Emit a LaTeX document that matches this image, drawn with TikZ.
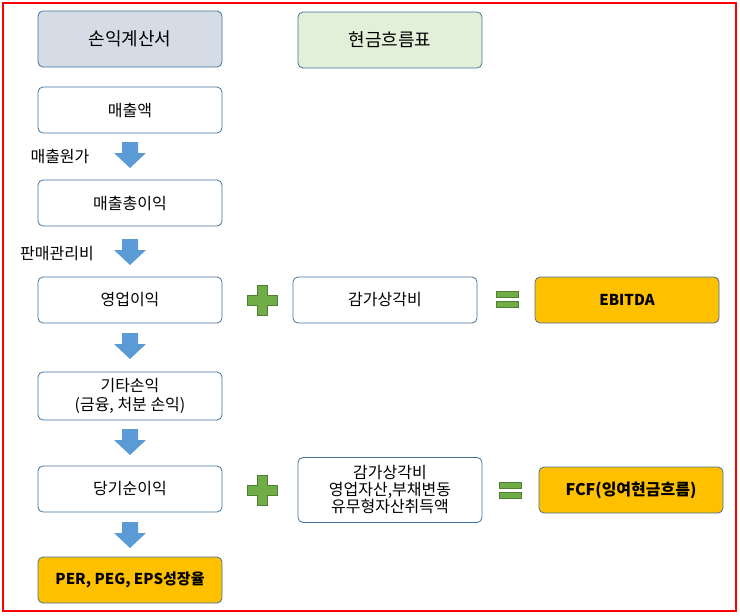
\documentclass[tikz,border=0pt]{standalone}
\usepackage{fontspec}
\setmainfont{Noto Sans CJK KR}
\usetikzlibrary{calc}
\definecolor{bd}{HTML}{41719C}
\definecolor{arr}{HTML}{5B9BD5}
\definecolor{grn}{HTML}{70AD47}
\definecolor{grnd}{HTML}{507E32}
\definecolor{org}{HTML}{FFC000}
\tikzset{
 box/.style={draw=bd, line width=0.8pt, rounded corners=5pt, fill=white, minimum width=184pt, minimum height=46pt, font=\fontsize{16}{19}\selectfont, align=center, inner sep=1pt},
 hdr/.style={box, minimum height=56pt, font=\fontsize{18}{21}\selectfont},
 orgbox/.style={box, fill=org, font=\fontsize{15}{18}\selectfont\bfseries},
 lbl/.style={font=\fontsize{16}{19}\selectfont, inner sep=0pt},
}
\newcommand{\downarr}[1]{\fill[arr] ($(#1)+(-8,-13)$) -- ++(16,0) -- ++(0,11) -- ++(8,0) -- ($(#1)+(0,13)$) -- ($(#1)+(-16,-2)$) -- ++(8,0) -- cycle;}
\newcommand{\plussign}[1]{\fill[grn, draw=grnd, line width=0.6pt] ($(#1)+(-5,-15)$) -- ++(10,0) -- ++(0,10) -- ++(10,0) -- ++(0,10) -- ++(-10,0) -- ++(0,10) -- ++(-10,0) -- ++(0,-10) -- ++(-10,0) -- ++(0,-10) -- ++(10,0) -- cycle;}
\newcommand{\eqsign}[1]{\fill[grn, draw=grnd, line width=0.6pt] ($(#1)+(-11,-8)$) rectangle ++(22,6); \fill[grn, draw=grnd, line width=0.6pt] ($(#1)+(-11,2)$) rectangle ++(22,6);}
\begin{document}
\begin{tikzpicture}[x=1pt,y=-1pt]
\useasboundingbox (0,0) rectangle (740,616);
\draw[red, line width=1.2pt] (3,3) rectangle (736,611);
\node[hdr, fill={rgb,255:red,214;green,220;blue,229}] (pl) at (130,39) {손익계산서};
\node[hdr, fill={rgb,255:red,226;green,240;blue,217}] (cf) at (390,40) {현금흐름표};
\node[box] (s) at (130,110) {매출액};
\node[box] (gp) at (130,203) {매출총이익};
\node[box] (op) at (130,300) {영업이익};
\node[box] (dep) at (385,300) {감가상각비};
\node[orgbox] (eb) at (627,300) {EBITDA};
\node[box, minimum height=48pt] (ot) at (130,396) {기타손익\\(금융, 처분 손익)};
\node[box, minimum height=65pt, font=\fontsize{16}{17}\selectfont] (cfi) at (390,490) {감가상각비\\영업자산,부채변동\\유무형자산취득액};
\node[box] (ni) at (130,489) {당기순이익};
\node[orgbox, font=\fontsize{16}{19}\selectfont\bfseries] (fcf) at (631,490) {FCF(잉여현금흐름)};
\node[orgbox] (per) at (130,580) {PER, PEG, EPS성장율};
\coordinate (a1) at (130,155); \downarr{a1}
\coordinate (a2) at (130,252); \downarr{a2}
\coordinate (a3) at (130,346); \downarr{a3}
\coordinate (a4) at (130,442); \downarr{a4}
\coordinate (a5) at (130,535); \downarr{a5}
\node[lbl] (l1) at (60,156) {매출원가};
\node[lbl] (l2) at (57,254) {판매관리비};
\coordinate (p1) at (262,300); \plussign{p1}
\coordinate (p2) at (262,490); \plussign{p2}
\coordinate (e1) at (507,299); \eqsign{e1}
\coordinate (e2) at (510,490); \eqsign{e2}
\end{tikzpicture}
\end{document}
